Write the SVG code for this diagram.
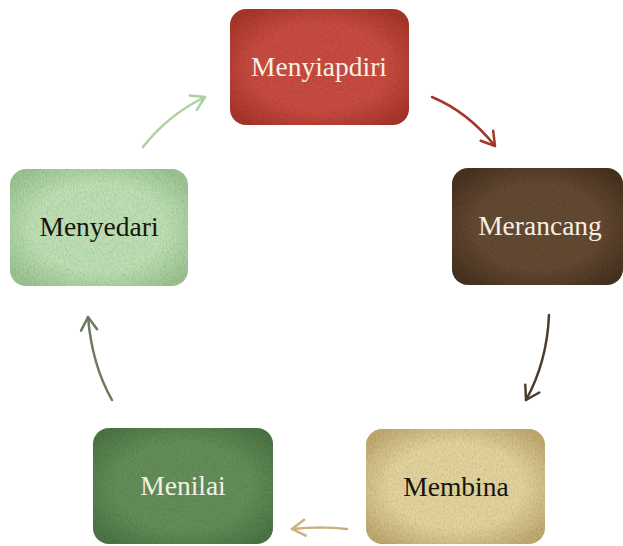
<svg xmlns="http://www.w3.org/2000/svg" width="623" height="546" viewBox="0 0 623 546">
<style>
.lbl{font-family:"Liberation Serif","DejaVu Serif",serif;font-size:27.5px;text-anchor:middle}
.lt{fill:#f6efe4}
.dk{fill:#151510}
.con{fill:none;stroke-width:2.5;stroke-linecap:round}
</style>
<defs>
<filter id="tex" x="0" y="0" width="1" height="1">
<feTurbulence type="fractalNoise" baseFrequency="0.9 0.35" numOctaves="3" seed="4" result="n"/>
<feColorMatrix in="n" type="matrix" values="0 0 0 0 0  0 0 0 0 0  0 0 0 0 0  0 0 0 -1.6 1.0" result="a"/>
<feComposite in="a" in2="SourceGraphic" operator="in" result="spots"/>
<feComponentTransfer in="spots" result="sp"><feFuncA type="linear" slope="0.3"/></feComponentTransfer>
<feMerge><feMergeNode in="SourceGraphic"/><feMergeNode in="sp"/></feMerge>
</filter>
<radialGradient id="gRed" cx="0.5" cy="0.5" r="0.62"><stop offset="0.6" stop-color="#c84c40"/><stop offset="1" stop-color="#a8352a"/></radialGradient>
<radialGradient id="gBrown" cx="0.5" cy="0.5" r="0.62"><stop offset="0.6" stop-color="#634832"/><stop offset="1" stop-color="#47321f"/></radialGradient>
<radialGradient id="gTan" cx="0.5" cy="0.5" r="0.62"><stop offset="0.6" stop-color="#e3d39c"/><stop offset="1" stop-color="#c0aa72"/></radialGradient>
<radialGradient id="gGreen" cx="0.5" cy="0.5" r="0.62"><stop offset="0.6" stop-color="#638e58"/><stop offset="1" stop-color="#4d7545"/></radialGradient>
<radialGradient id="gLight" cx="0.5" cy="0.5" r="0.62"><stop offset="0.6" stop-color="#bee0b4"/><stop offset="1" stop-color="#9cc490"/></radialGradient>
<marker id="mLight" markerUnits="userSpaceOnUse" markerWidth="30" markerHeight="30" refX="0" refY="0" viewBox="-15 -15 30 30" orient="auto"><path d="M-13,-8 L0,0 L-13,8" fill="none" stroke="#a9d29f" stroke-width="2.5" stroke-linecap="round" stroke-linejoin="round"/></marker>
<marker id="mRed" markerUnits="userSpaceOnUse" markerWidth="30" markerHeight="30" refX="0" refY="0" viewBox="-15 -15 30 30" orient="auto"><path d="M-13,-8 L0,0 L-13,8" fill="none" stroke="#a3382a" stroke-width="2.5" stroke-linecap="round" stroke-linejoin="round"/></marker>
<marker id="mBrown" markerUnits="userSpaceOnUse" markerWidth="30" markerHeight="30" refX="0" refY="0" viewBox="-15 -15 30 30" orient="auto"><path d="M-13,-8 L0,0 L-13,8" fill="none" stroke="#4b3c30" stroke-width="2.5" stroke-linecap="round" stroke-linejoin="round"/></marker>
<marker id="mTan" markerUnits="userSpaceOnUse" markerWidth="30" markerHeight="30" refX="0" refY="0" viewBox="-15 -15 30 30" orient="auto"><path d="M-13,-8 L0,0 L-13,8" fill="none" stroke="#c9b27e" stroke-width="2.5" stroke-linecap="round" stroke-linejoin="round"/></marker>
<marker id="mDark" markerUnits="userSpaceOnUse" markerWidth="30" markerHeight="30" refX="0" refY="0" viewBox="-15 -15 30 30" orient="auto"><path d="M-13,-8 L0,0 L-13,8" fill="none" stroke="#6b7a5c" stroke-width="2.5" stroke-linecap="round" stroke-linejoin="round"/></marker>
</defs>
<rect width="623" height="546" fill="#ffffff"/>
<g id="connectors">
<path class="con" stroke="#a9d29f" d="M143,147 Q168,115 205,97" marker-end="url(#mLight)"/>
<path class="con" stroke="#a3382a" d="M432,97 Q468,112 495,146" marker-end="url(#mRed)"/>
<path class="con" stroke="#4b3c30" d="M549,315 Q547,362 526,400" marker-end="url(#mBrown)"/>
<path class="con" stroke="#c9b27e" d="M347,529 Q322,526 292,529" marker-end="url(#mTan)"/>
<path class="con" stroke="#6b7a5c" d="M112,400 Q92,365 88,317" marker-end="url(#mDark)"/>
</g>
<g id="menyiapdiri">
<rect x="230" y="9" width="179" height="116" rx="16" fill="url(#gRed)" filter="url(#tex)"/>
<text class="lbl lt" x="319" y="76">Menyiapdiri</text>
</g>
<g id="merancang">
<rect x="452" y="168" width="171" height="117" rx="16" fill="url(#gBrown)" filter="url(#tex)"/>
<text class="lbl lt" x="540" y="235">Merancang</text>
</g>
<g id="membina">
<rect x="366" y="429" width="179" height="115" rx="16" fill="url(#gTan)" filter="url(#tex)"/>
<text class="lbl dk" x="456" y="496">Membina</text>
</g>
<g id="menilai">
<rect x="93" y="428" width="180" height="116" rx="16" fill="url(#gGreen)" filter="url(#tex)"/>
<text class="lbl lt" x="183" y="495">Menilai</text>
</g>
<g id="menyedari">
<rect x="10" y="169" width="178" height="117" rx="16" fill="url(#gLight)" filter="url(#tex)"/>
<text class="lbl dk" x="99" y="236">Menyedari</text>
</g>
</svg>
